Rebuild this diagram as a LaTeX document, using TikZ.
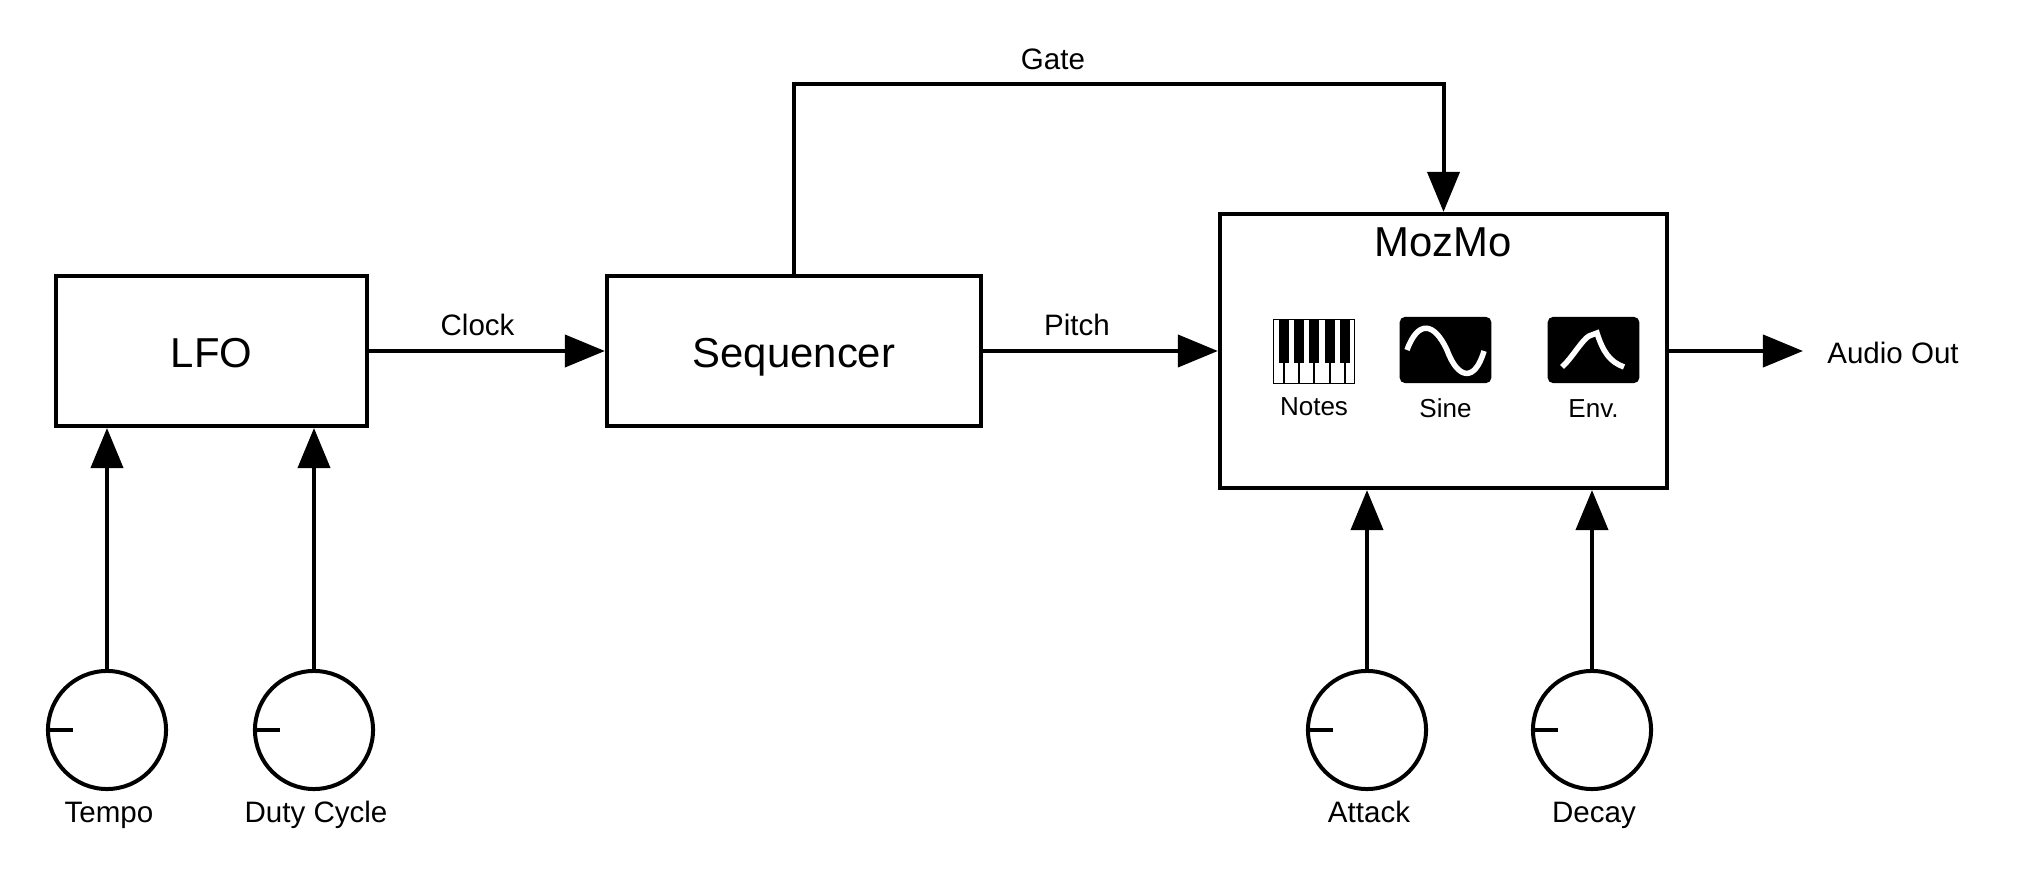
\documentclass[tikz,border=0pt]{standalone}
\usepackage{fontspec}
\setmainfont{Liberation Sans}
\usetikzlibrary{arrows.meta,positioning}

\begin{document}
\begin{tikzpicture}[x=0.01cm, y=-0.01cm, font=\fontsize{8.4}{10}\selectfont, line width=0.04cm,
  box/.style={draw=black, fill=white, minimum width=#1, inner sep=0pt, text height=9.5pt, text depth=0pt, font=\fontsize{11.9}{14}\selectfont},
  knob/.style={draw=black, circle, minimum size=1.18cm, inner sep=0pt},
  icon/.style={draw=black, fill=black, rounded corners=1pt, minimum width=0.875cm, minimum height=0.62cm, inner sep=0pt},
  iconlabel/.style={text height=5.1pt, text depth=0pt, font=\fontsize{7.4}{9}\selectfont},
  knoblabel/.style={below=-0.03cm of #1, xshift=0.02cm, text height=6pt, text depth=1.8pt},
  wave/.style={draw=white, line width=0.055cm},
  arr/.style={-{Triangle[length=4mm,width=3.2mm]}}]
\useasboundingbox (0,0) rectangle (2020,870);
% blocks
\node[box=3.11cm, minimum height=1.5cm] (lfo) at (211.5,351) {LFO};
\node[box=3.74cm, minimum height=1.5cm] (seq) at (794,351) {Sequencer};
\node[box=4.47cm, minimum height=2.74cm] (moz) at (1443.5,351) {};
\node (mozlabel) at (1443,242) {\fontsize{11.9}{14}\selectfont MozMo};
% knobs
\node[knob] (tempo) at (107,730) {};
\node[knob] (duty) at (314,730) {};
\node[knob] (attack) at (1367,730) {};
\node[knob] (decay) at (1592,730) {};
\foreach \k in {tempo,duty,attack,decay}
  \draw (\k.west) -- ++(27,0);
\node[knoblabel=tempo] (tempolabel) {Tempo};
\node[knoblabel=duty] (dutylabel) {Duty Cycle};
\node[knoblabel=attack] (attacklabel) {Attack};
\node[knoblabel=decay] (decaylabel) {Decay};
% icons
\node[draw=black, line width=0.01cm, fill=white, minimum width=0.81cm, minimum height=0.63cm, inner sep=0pt] (keys) at (1314,351.5) {};
\foreach \x in {1284,1299,1314,1330,1345} {
  \fill (\x-5,320) rectangle (\x+5,363);
  \draw[line width=0.025cm] (\x,363) -- (\x,383);
}
\node[icon] (sine) at (1445.5,350) {};
\node[icon] (env) at (1593.5,350) {};
\draw[wave] (1407,350) .. controls (1418,320) and (1434,322) .. (1447,350)
  .. controls (1458,380) and (1475,382) .. (1484,351);
\draw[wave] (1562,367) .. controls (1572,358) and (1582,340) .. (1589,336) -- (1597,333)
  .. controls (1603,352) and (1610,362) .. (1624,367);
\node[below=0cm of keys, iconlabel] (noteslabel) {Notes};
\node[below=0.025cm of sine, iconlabel] (sinelabel) {Sine};
\node[below=0.025cm of env, iconlabel] (envlabel) {Env.};
\node (audio) at (1893,353) {Audio Out};
\coordinate (audioend) at (1803,351);
% connectors
\draw[arr] (lfo) -- node[above, pos=0.46, yshift=0.01cm] (clock) {Clock} (seq);
\draw[arr] (seq) -- node[above, pos=0.4, yshift=0.01cm] (pitch) {Pitch} (moz);
\draw[arr] (seq.north) -- ++(0,-190) -| (moz.north);
\node (gate) at (1053,59) {Gate};
\draw[arr] (moz.east) -- (audioend);
\draw[arr] (tempo.north) -- (tempo.north |- lfo.south);
\draw[arr] (duty.north) -- (duty.north |- lfo.south);
\draw[arr] (attack.north) -- (attack.north |- moz.south);
\draw[arr] (decay.north) -- (decay.north |- moz.south);
\end{tikzpicture}
\end{document}
